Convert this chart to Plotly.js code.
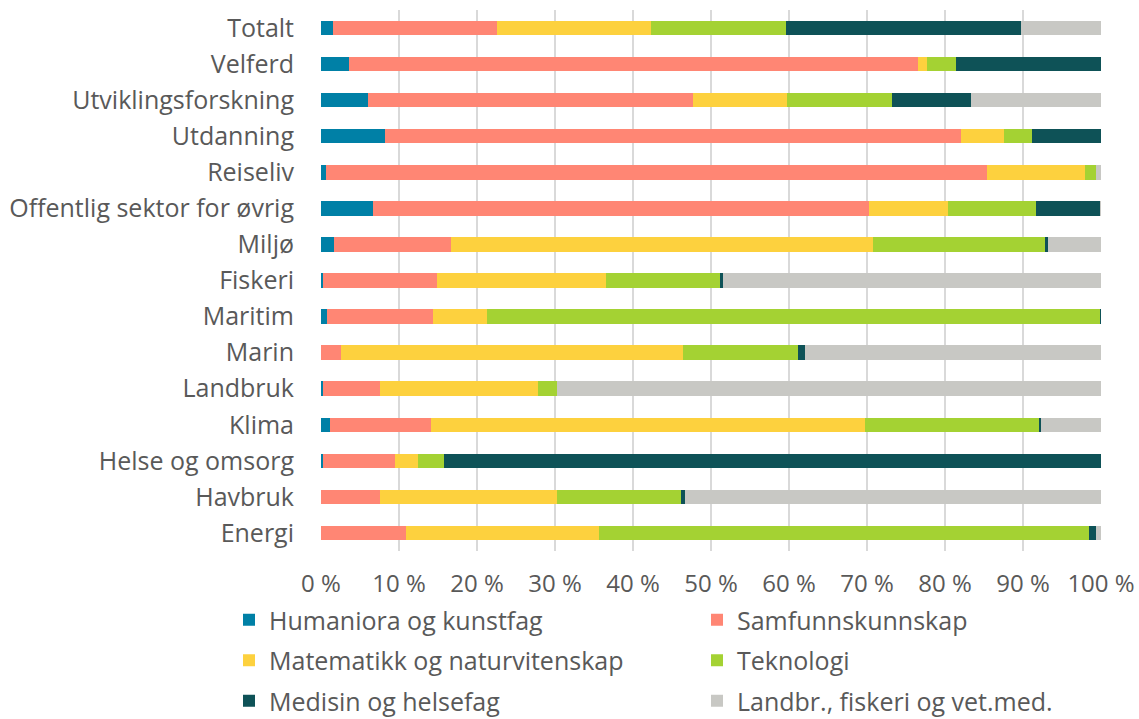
<!DOCTYPE html>
<html>
<head>
<meta charset="utf-8">
<script src="https://cdn.plot.ly/plotly-3.0.1.min.js"></script>
<style>html,body{margin:0;padding:0;background:#fff;}#chart{width:1139px;height:719px;}</style>
</head>
<body>
<div id="chart"></div>
<script>
const categories = ["Totalt","Velferd","Utviklingsforskning","Utdanning","Reiseliv","Offentlig sektor for øvrig","Miljø","Fiskeri","Maritim","Marin","Landbruk","Klima","Helse og omsorg","Havbruk","Energi"];
const humaniora   = [1.6, 3.6, 6.0, 8.2, 0.7, 6.7, 1.7, 0.3, 0.8, 0.0, 0.3, 1.2, 0.3, 0.0, 0.0];
const samfunn     = [20.9, 72.9, 41.7, 73.8, 84.7, 63.5, 15.0, 14.6, 13.6, 2.6, 7.3, 12.9, 9.2, 7.6, 10.9];
const matnat      = [19.8, 1.2, 12.0, 5.6, 12.5, 10.2, 54.1, 21.7, 6.9, 43.8, 20.2, 55.7, 2.9, 22.6, 24.8];
const teknologi   = [17.3, 3.7, 13.5, 3.5, 1.4, 11.3, 22.0, 14.5, 78.6, 14.7, 2.5, 22.3, 3.4, 15.9, 62.7];
const medisin     = [30.2, 18.6, 10.1, 8.9, 0.1, 8.2, 0.4, 0.5, 0.1, 1.0, 0.0, 0.2, 84.2, 0.6, 1.0];
const landbruk    = [10.2, 0.0, 16.7, 0.0, 0.6, 0.1, 6.8, 48.4, 0.0, 37.9, 69.7, 7.7, 0.0, 53.3, 0.6];
const seriesNames = ["Humaniora og kunstfag","Samfunnskunnskap","Matematikk og naturvitenskap","Teknologi","Medisin og helsefag","Landbr., fiskeri og vet.med."];
const tickVals = [0,10,20,30,40,50,60,70,80,90,100];
const tickText = ["0 %","10 %","20 %","30 %","40 %","50 %","60 %","70 %","80 %","90 %","100 %"];

const colors = ["#0080a6","#ff8674","#fdd13e","#a4d233","#0e5257","#c8c8c4"];
const seriesData = [humaniora, samfunn, matnat, teknologi, medisin, landbruk];

const traces = seriesData.map((vals, i) => ({
  type: "bar",
  orientation: "h",
  name: seriesNames[i],
  x: vals,
  y: categories,
  marker: {color: colors[i], line: {width: 0}},
  width: 0.4,
  legend: (i % 2 === 0) ? "legend" : "legend2",
  legendgroup: "g" + i,
  hoverinfo: "x+y+name"
}));

const font = "'Open Sans', Lato, sans-serif";
const legendCommon = {
  orientation: "v", xref: "container", yref: "container",
  xanchor: "left", yanchor: "top", y: 1 - 597/719,
  traceorder: "grouped", tracegroupgap: 5,
  font: {size: 25, color: "#595959"}, bgcolor: "rgba(0,0,0,0)"
};
const layout = {
  width: 1139, height: 719,
  barmode: "stack",
  paper_bgcolor: "#fff", plot_bgcolor: "#fff",
  margin: {l: 321, r: 38, t: 10, b: 168, autoexpand: false},
  font: {family: font, color: "#595959", size: 25},
  xaxis: {
    range: [0, 100], tickvals: tickVals, ticktext: tickText,
    showgrid: true, gridcolor: "#d9d9d9", gridwidth: 1.5,
    zeroline: false, showline: false, ticks: "",
    tickfont: {size: 24, color: "#595959"}, ticklabelstandoff: 16, fixedrange: true,
    automargin: false
  },
  yaxis: {
    autorange: "reversed", showgrid: false, zeroline: false, showline: false,
    ticks: "", ticklabelstandoff: 26, automargin: false,
    tickfont: {size: 25, color: "#595959"}
  },
  showlegend: true,
  legend: Object.assign({}, legendCommon, {x: 229/1139}),
  legend2: Object.assign({}, legendCommon, {x: 697/1139})
};

Plotly.newPlot("chart", traces, layout, {displayModeBar: false, staticPlot: true});
</script>
</body>
</html>
